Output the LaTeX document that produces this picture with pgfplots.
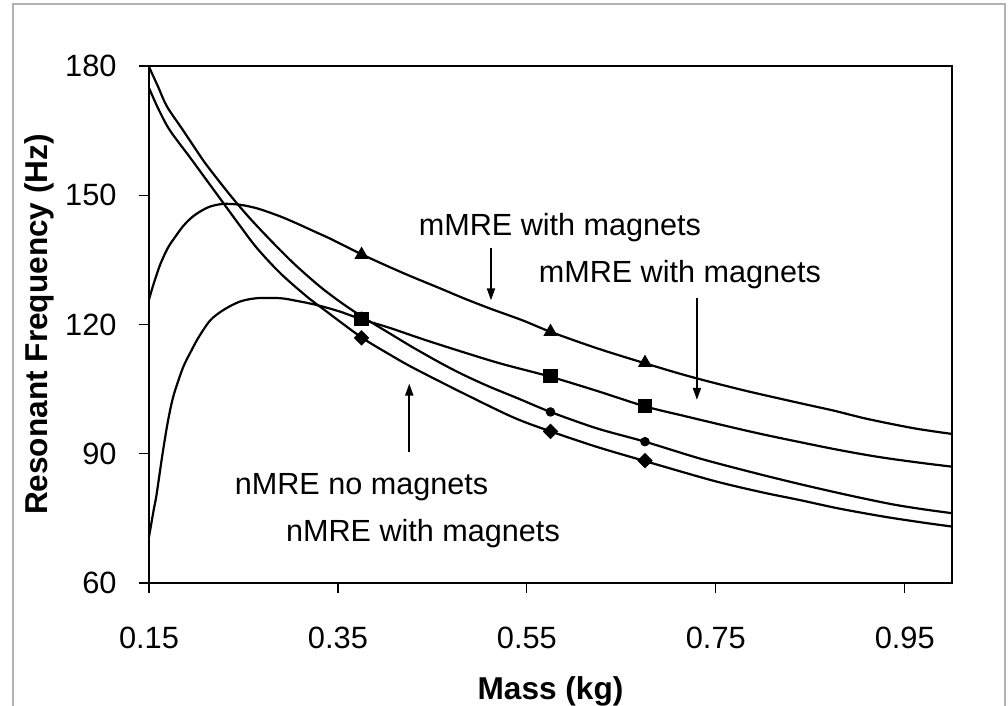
\documentclass[border=0pt]{standalone}
\usepackage{fontspec}
\setmainfont{Liberation Sans}
\usepackage{pgfplots}
\usepackage{pgfplotstable}
\pgfplotsset{compat=1.18}
\usetikzlibrary{arrows.meta}

% mMRE with magnets (upper curve, triangles)
\pgfplotstableread{
m f
0.150 125.8
0.155 129.5
0.162 134.0
0.170 137.8
0.176 139.8
0.186 142.8
0.195 144.8
0.204 146.2
0.215 147.4
0.229 148.0
0.246 147.8
0.262 147.1
0.275 146.2
0.290 145.0
0.306 143.5
0.328 141.3
0.342 139.9
0.375 136.3
0.405 133.3
0.427 131.2
0.458 128.4
0.483 126.1
0.511 123.7
0.545 121.0
0.575 118.3
0.624 114.5
0.675 111.0
0.723 107.9
0.780 104.7
0.840 101.7
0.875 100.0
0.910 98.1
0.960 95.9
1.000 94.6
}\mmreMag

% mMRE (squares)
\pgfplotstableread{
m f
0.150 70.7
0.155 77.0
0.158 80.5
0.164 89.5
0.170 97.5
0.176 103.5
0.186 110.0
0.195 114.0
0.203 117.2
0.215 121.0
0.229 123.4
0.246 125.3
0.264 126.1
0.289 126.1
0.306 125.5
0.328 124.5
0.352 123.0
0.375 121.2
0.405 119.2
0.448 116.0
0.518 111.2
0.573 108.0
0.624 104.6
0.675 101.0
0.716 98.8
0.760 96.5
0.804 94.3
0.875 91.1
0.921 89.3
0.963 88.0
1.000 87.0
}\mmreSq

% nMRE with magnets (circles)
\pgfplotstableread{
m f
0.150 179.8
0.160 175.0
0.169 170.6
0.186 165.1
0.200 160.5
0.211 157.0
0.236 150.0
0.257 144.6
0.282 138.8
0.306 133.6
0.331 128.8
0.352 125.3
0.375 121.9
0.405 117.9
0.430 114.6
0.460 110.9
0.483 108.3
0.510 105.6
0.540 102.9
0.575 99.7
0.624 95.9
0.675 92.8
0.733 88.9
0.790 85.6
0.840 82.9
0.890 80.4
0.936 78.3
0.970 77.1
1.000 76.2
}\nmreMag

% nMRE no magnets (diamonds)
\pgfplotstableread{
m f
0.150 174.9
0.160 170.0
0.172 165.1
0.193 158.9
0.211 153.5
0.227 148.7
0.245 143.3
0.264 137.8
0.289 131.9
0.317 126.5
0.338 123.0
0.375 117.0
0.405 113.0
0.430 109.9
0.483 104.0
0.536 98.4
0.575 95.2
0.624 91.6
0.675 88.3
0.748 83.7
0.800 81.0
0.840 79.2
0.880 77.3
0.928 75.4
0.970 74.0
1.000 73.1
}\nmreNo

% measured points
\pgfplotstableread{
m f
0.375 136.2
0.575 118.3
0.675 111.1
}\ptTri
\pgfplotstableread{
m f
0.375 121.2
0.575 108.0
0.675 101.0
}\ptSq
\pgfplotstableread{
m f
0.375 121.9
0.575 99.7
0.675 92.8
}\ptCirc
\pgfplotstableread{
m f
0.375 116.9
0.575 95.2
0.675 88.4
}\ptDia

\begin{document}
\begin{tikzpicture}
\path[use as bounding box] (-74.5pt,-61.5pt) rectangle (429.5pt,291.5pt);
\draw[gray!60, line width=0.6pt] (-68pt,-70pt) -- (-68pt,289.5pt) -- (428pt,289.5pt) -- (428pt,-70pt);
\begin{axis}[
  scale only axis,
  width=401.5pt, height=258.5pt,
  xmin=0.15, xmax=1.0, ymin=60, ymax=180,
  xtick={0.15,0.35,0.55,0.75,0.95},
  ytick={60,90,120,150,180},
  tick align=outside,
  xtick pos=left, ytick pos=left,
  major tick length=5pt,
  tick style={black, line width=0.6pt},
  axis line style={black, line width=0.9pt},
  /pgf/number format/assume math mode=true,
  xticklabel style={/pgf/number format/.cd, fixed, fixed zerofill, precision=2, /tikz/.cd,
    font=\fontsize{15.4}{18}\selectfont, anchor=north, inner sep=0pt, yshift=-17pt},
  yticklabel style={font=\fontsize{15.4}{18}\selectfont, anchor=east, inner sep=0pt, xshift=-11pt},
  xlabel={Mass (kg)},
  ylabel={Resonant Frequency (Hz)},
  xlabel style={font=\fontsize{15.8}{18}\selectfont\bfseries, at={(axis description cs:0.5,-0.21)}, anchor=center},
  ylabel style={font=\fontsize{15.8}{18}\selectfont\bfseries, at={(axis description cs:-0.136,0.5)}, anchor=center},
  every axis plot/.append style={black, line width=1.1pt},
]
\addplot[smooth, no markers] table[x=m, y=f] {\mmreMag};
\addplot[smooth, no markers] table[x=m, y=f] {\mmreSq};
\addplot[smooth, no markers] table[x=m, y=f] {\nmreMag};
\addplot[smooth, no markers] table[x=m, y=f] {\nmreNo};

\addplot[only marks, mark=*, mark size=1.8pt] table[x=m, y=f] {\ptCirc};
\addplot[only marks, mark=triangle*, mark size=3pt] table[x=m, y=f] {\ptTri};
\addplot[only marks, mark=square*, mark size=3pt] table[x=m, y=f] {\ptSq};
\addplot[only marks, mark=square*, mark size=2.2pt, mark options={rotate=45}] table[x=m, y=f] {\ptDia};

% annotations
\begin{scope}[every node/.style={font=\fontsize{15.3}{18}\selectfont, inner sep=0pt}]
\node at (axis cs:0.585,142.6) {mMRE with magnets};
\node at (axis cs:0.712,131.6) {mMRE with magnets};
\node at (axis cs:0.375,82.3) {nMRE no magnets};
\node at (axis cs:0.440,71.5) {nMRE with magnets};
\end{scope}
\draw[line width=0.9pt, -{Triangle[length=6pt, width=4pt]}] (axis cs:0.512,137.7) -- (axis cs:0.512,125.6);
\draw[line width=0.9pt, -{Triangle[length=6pt, width=4pt]}] (axis cs:0.730,126.1) -- (axis cs:0.730,102.5);
\draw[line width=0.9pt, -{Triangle[length=6pt, width=4pt]}] (axis cs:0.4255,90.3) -- (axis cs:0.4255,106.3);
\end{axis}
\end{tikzpicture}
\end{document}
